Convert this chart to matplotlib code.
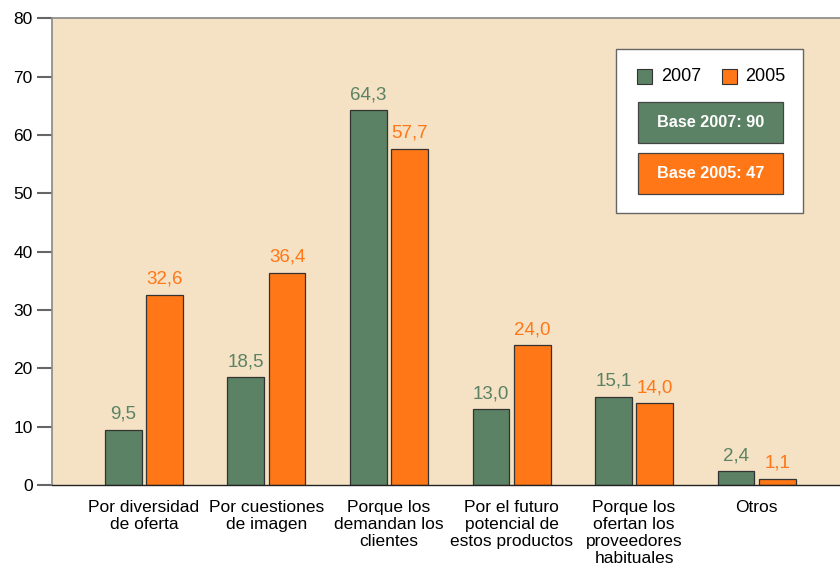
import numpy as np
import matplotlib.pyplot as plt
from matplotlib.patches import Rectangle

plt.rcParams['font.family'] = ['Liberation Sans', 'DejaVu Sans']

categories = ["Por diversidad\nde oferta", "Por cuestiones\nde imagen", "Porque los\ndemandan los\nclientes",
              "Por el futuro\npotencial de\nestos productos", "Porque los\nofertan los\nproveedores\nhabituales", "Otros"]
v2007 = [9.5, 18.5, 64.3, 13.0, 15.1, 2.4]
v2005 = [32.6, 36.4, 57.7, 24.0, 14.0, 1.1]
series_names = ["2007", "2005"]
base_labels = ["Base 2007: 90", "Base 2005: 47"]

green = "#5b8264"
orange = "#ff7716"
bg = "#f5e1c3"

fig = plt.figure(figsize=(8.4, 5.65), dpi=100)
ax = fig.add_axes([0.0619, 0.1416, 0.9381, 0.8257])
ax.set_facecolor(bg)

x = np.arange(len(categories))
w = 0.30
off = 0.168
ax.bar(x - off, v2007, w, color=green, edgecolor="#333333", linewidth=0.9)
ax.bar(x + off, v2005, w, color=orange, edgecolor="#333333", linewidth=0.9)

for xi, a, b in zip(x, v2007, v2005):
    ax.text(xi - off, a + 1.2, f"{a:.1f}".replace(".", ","), ha="center", va="bottom",
            color=green, fontsize=13.5)
    ax.text(xi + off, b + 1.2, f"{b:.1f}".replace(".", ","), ha="center", va="bottom",
            color=orange, fontsize=13.5)

ax.set_xlim(-0.75, 5.68)
ax.set_ylim(0, 80)
ax.set_yticks(range(0, 81, 10))
ax.set_xticks(x)
ax.set_xticklabels(categories, fontsize=12.5, linespacing=1.17, va="top")
ax.tick_params(axis="x", length=0, pad=11)
ax.tick_params(axis="y", length=11, width=1.5, color="#666666", labelsize=12.5, pad=3)

for s in ["left", "top"]:
    ax.spines[s].set_color("#888888")
    ax.spines[s].set_linewidth(1.2)
ax.spines["right"].set_visible(False)
ax.spines["bottom"].set_color("#222222")
ax.spines["bottom"].set_linewidth(1.0)

# legend panel
T = ax.transAxes
ax.add_patch(Rectangle((0.716, 0.583), 0.237, 0.352, transform=T, facecolor="white",
                       edgecolor="#666666", linewidth=1.0, zorder=5))
ax.add_patch(Rectangle((0.742, 0.860), 0.019, 0.032, transform=T, facecolor=green,
                       edgecolor="#333333", linewidth=0.8, zorder=6))
ax.text(0.773, 0.876, series_names[0], transform=T, ha="left", va="center", fontsize=13, zorder=6)
ax.add_patch(Rectangle((0.850, 0.860), 0.019, 0.032, transform=T, facecolor=orange,
                       edgecolor="#333333", linewidth=0.8, zorder=6))
ax.text(0.879, 0.876, series_names[1], transform=T, ha="left", va="center", fontsize=13, zorder=6)

for yb, col, lab in [(0.733, green, base_labels[0]), (0.624, orange, base_labels[1])]:
    ax.add_patch(Rectangle((0.744, yb), 0.184, 0.087, transform=T, facecolor=col,
                           edgecolor="#444444", linewidth=0.9, zorder=6))
    ax.text(0.836, yb + 0.0435, lab, transform=T, ha="center", va="center", fontsize=11.7,
            fontweight="bold", color="white", zorder=7)

fig.savefig("out.png", dpi=100)
